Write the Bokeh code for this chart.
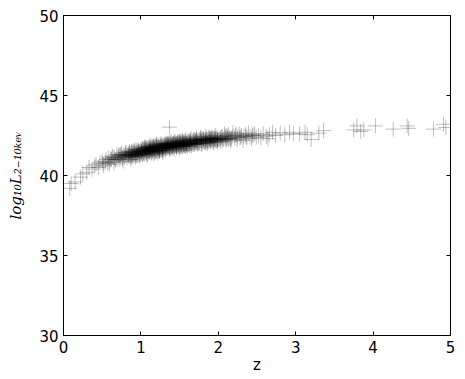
from bokeh.plotting import figure
from bokeh.models import ColumnDataSource, LinearAxis, FixedTicker, Range1d
from bokeh.embed import file_html
from bokeh.resources import INLINE

# ---- data (redshift z, log10 L_2-10keV) ----
z_a = [0.08, 0.10, 0.15, 0.22, 0.25, 0.30, 0.33, 0.37, 0.40, 0.42, 0.45]
l_a = [39.2, 39.5, 39.6, 39.9, 40.1, 40.2, 40.5, 40.4, 40.6, 40.7, 40.5]

z_b = [0.47, 0.50, 0.52, 0.55, 0.57, 0.58, 0.60, 0.62, 0.63, 0.65,
       0.66, 0.68, 0.69, 0.70, 0.51, 0.54, 0.61, 0.67, 0.64, 0.59]
l_b = [40.8, 40.9, 40.6, 41.0, 40.8, 41.1, 40.9, 41.0, 41.2, 40.8,
       41.1, 41.0, 41.3, 41.1, 40.75, 40.85, 41.05, 40.95, 41.15, 40.7]

z_c = [0.71, 0.72, 0.73, 0.74, 0.75, 0.76, 0.77, 0.78, 0.79, 0.80,
       0.81, 0.82, 0.83, 0.84, 0.85, 0.86, 0.87, 0.88, 0.89, 0.90,
       0.91, 0.92, 0.93, 0.94, 0.95, 0.96, 0.97, 0.98, 0.99, 1.00,
       0.72, 0.76, 0.80, 0.84, 0.88, 0.92, 0.96, 0.98, 0.74, 0.82,
       0.86, 0.90, 0.94, 0.78, 1.00]
l_c = [41.2, 41.0, 41.3, 41.1, 41.4, 41.2, 40.9, 41.3, 41.15, 41.25,
       41.45, 41.1, 41.3, 41.2, 41.5, 41.35, 41.0, 41.4, 41.25, 41.55,
       41.3, 41.45, 41.15, 41.6, 41.4, 41.3, 41.5, 41.2, 41.45, 41.65,
       41.25, 41.05, 41.4, 41.35, 41.15, 41.3, 41.55, 41.35, 41.3, 41.25,
       41.2, 41.4, 41.25, 41.15, 41.35]

z_d = [1.01, 1.02, 1.02, 1.03, 1.04, 1.05, 1.05, 1.06, 1.07, 1.08,
       1.08, 1.09, 1.10, 1.10, 1.11, 1.12, 1.12, 1.13, 1.14, 1.14,
       1.15, 1.16, 1.16, 1.17, 1.18, 1.18, 1.19, 1.20, 1.20, 1.21,
       1.22, 1.22, 1.23, 1.24, 1.24, 1.25, 1.26, 1.26, 1.27, 1.28,
       1.28, 1.29, 1.30, 1.30, 1.03, 1.07, 1.09, 1.13, 1.15, 1.17,
       1.19, 1.21, 1.23, 1.25, 1.27, 1.29, 1.06, 1.11, 1.16, 1.21,
       1.26, 1.04, 1.18, 1.24, 1.14, 1.08, 1.28, 1.12, 1.20, 1.01]
l_d = [41.5, 41.3, 41.7, 41.45, 41.6, 41.35, 41.8, 41.55, 41.4, 41.65,
       41.25, 41.5, 41.75, 41.6, 41.45, 41.85, 41.55, 41.7, 41.4, 41.6,
       41.75, 41.5, 41.9, 41.65, 41.45, 41.8, 41.6, 41.7, 41.95, 41.55,
       41.75, 41.4, 41.85, 41.65, 41.5, 41.8, 41.7, 42.0, 41.6, 41.85,
       41.45, 41.75, 41.9, 41.65, 41.6, 41.7, 41.35, 41.55, 41.6, 41.35,
       41.85, 41.75, 41.6, 41.55, 41.9, 41.55, 41.75, 41.65, 41.7, 41.9,
       41.8, 41.4, 41.65, 41.75, 41.8, 41.55, 41.7, 41.7, 41.5, 41.6]

z_out = [1.37]
l_out = [43.02]

z_e = [1.31, 1.31, 1.32, 1.32, 1.33, 1.34, 1.34, 1.35, 1.35, 1.36,
       1.37, 1.37, 1.38, 1.39, 1.39, 1.40, 1.40, 1.41, 1.42, 1.42,
       1.43, 1.44, 1.44, 1.45, 1.46, 1.46, 1.47, 1.48, 1.48, 1.49,
       1.50, 1.50, 1.51, 1.52, 1.52, 1.53, 1.54, 1.54, 1.55, 1.56,
       1.56, 1.57, 1.58, 1.58, 1.59, 1.60, 1.60, 1.33, 1.36, 1.38,
       1.41, 1.43, 1.45, 1.47, 1.49, 1.51, 1.53, 1.55, 1.57, 1.59,
       1.34, 1.40, 1.46, 1.52, 1.58, 1.32, 1.44, 1.56, 1.38, 1.50,
       1.36, 1.42, 1.48, 1.54]
l_e = [41.75, 42.0, 41.85, 41.6, 41.95, 41.8, 41.7, 42.05, 41.9, 41.75,
       41.95, 41.6, 41.85, 42.1, 41.8, 41.95, 41.7, 41.9, 42.05, 41.8,
       41.65, 41.95, 42.15, 41.85, 42.0, 41.75, 41.9, 42.1, 41.85, 41.95,
       42.0, 41.7, 42.15, 41.9, 42.05, 41.8, 42.0, 42.2, 41.95, 41.85,
       42.1, 42.0, 41.9, 42.25, 42.05, 41.95, 41.8, 41.75, 41.85, 41.95,
       41.8, 42.0, 41.95, 42.05, 41.8, 41.9, 42.1, 42.05, 41.85, 41.95,
       41.9, 41.85, 41.9, 41.95, 42.0, 41.95, 41.85, 42.0, 41.7, 42.1,
       42.0, 41.95, 41.95, 41.85]

z_f = [1.61, 1.62, 1.62, 1.63, 1.64, 1.65, 1.65, 1.66, 1.67, 1.68,
       1.68, 1.69, 1.70, 1.71, 1.72, 1.72, 1.73, 1.74, 1.75, 1.76,
       1.77, 1.78, 1.79, 1.80, 1.81, 1.82, 1.83, 1.84, 1.85, 1.86,
       1.87, 1.88, 1.89, 1.90, 1.91, 1.92, 1.93, 1.94, 1.95, 1.96,
       1.97, 1.98, 1.99, 2.00, 1.63, 1.66, 1.69, 1.71, 1.74, 1.76,
       1.79, 1.81, 1.84, 1.86, 1.89, 1.91, 1.94, 1.97, 1.64, 1.70,
       1.78, 1.83, 1.88, 1.93, 1.99]
l_f = [42.05, 41.9, 42.2, 42.0, 42.1, 41.85, 42.3, 42.05, 42.15, 41.95,
       42.25, 42.1, 42.0, 42.2, 42.35, 42.05, 41.95, 42.15, 42.25, 42.05,
       42.4, 42.15, 42.0, 42.2, 42.3, 42.1, 42.25, 42.45, 42.15, 42.0,
       42.3, 42.2, 42.35, 42.1, 42.25, 42.4, 42.2, 42.05, 42.3, 42.5,
       42.25, 42.15, 42.35, 42.25, 42.15, 41.95, 42.25, 42.1, 42.0, 42.2,
       42.3, 42.15, 42.25, 42.2, 42.15, 42.35, 42.3, 42.4, 42.0, 42.15,
       42.3, 42.05, 42.4, 42.35, 42.2]

z_g = [2.02, 2.03, 2.05, 2.06, 2.08, 2.09, 2.10, 2.12, 2.13, 2.15,
       2.16, 2.18, 2.19, 2.21, 2.22, 2.24, 2.25, 2.27, 2.28, 2.30,
       2.32, 2.33, 2.35, 2.37, 2.39, 2.41, 2.43, 2.45, 2.47, 2.49,
       2.04, 2.11, 2.17, 2.23, 2.29, 2.36, 2.44]
l_g = [42.3, 42.1, 42.45, 42.25, 42.6, 42.35, 42.2, 42.4, 42.55, 42.3,
       42.15, 42.45, 42.7, 42.35, 42.5, 42.25, 42.4, 42.6, 42.35, 42.5,
       42.2, 42.45, 42.55, 42.35, 42.65, 42.45, 42.3, 42.5, 42.6, 42.4,
       42.4, 42.5, 42.3, 42.6, 42.4, 42.45, 42.55]

z_h = [2.52, 2.55, 2.58, 2.62, 2.64, 2.66, 2.70, 2.74, 2.80, 2.86,
       2.92, 2.97, 3.05, 3.12, 3.15, 3.20, 3.30, 3.36, 3.75, 3.79,
       3.84, 3.88, 4.03, 4.26, 4.44, 4.46, 4.78, 4.91, 4.94]
l_h = [42.5, 42.35, 42.6, 42.45, 42.3, 42.55, 42.7, 42.5, 42.65, 42.55,
       42.7, 42.6, 42.6, 42.7, 42.55, 42.25, 42.65, 42.8, 42.85, 43.1,
       42.75, 42.85, 43.1, 42.9, 43.1, 42.95, 42.9, 43.2, 43.0]

# additional sources in the densest part of the band
z_i = [0.85, 0.86, 0.87, 0.88, 0.89, 0.90, 0.91, 0.92, 0.93, 0.94,
       0.95, 0.96, 0.97, 0.98, 0.99,
       1.00, 1.01, 1.02, 1.03, 1.04, 1.05, 1.06, 1.07, 1.08, 1.09,
       1.10, 1.11, 1.12, 1.13, 1.14, 1.15, 1.16, 1.17, 1.18, 1.19,
       1.20, 1.21, 1.22, 1.23, 1.24, 1.25, 1.26, 1.27, 1.28, 1.29,
       1.30, 1.11, 1.17, 1.23, 1.05,
       1.31, 1.32, 1.33, 1.34, 1.35, 1.36, 1.37, 1.38, 1.39, 1.40,
       1.41, 1.42, 1.43, 1.44, 1.45, 1.46, 1.47, 1.48, 1.49, 1.50,
       1.51, 1.52, 1.53, 1.54, 1.55, 1.56, 1.57, 1.58, 1.59, 1.60,
       1.61, 1.62, 1.63, 1.64, 1.65,
       1.67, 1.69, 1.71, 1.73, 1.75, 1.77, 1.79, 1.81, 1.83, 1.85,
       1.87, 1.89, 1.91, 1.93, 1.95, 1.97, 1.99, 2.01, 2.03, 2.05,
       2.07, 2.09, 2.11, 2.13, 2.15, 1.72, 1.78, 1.84, 1.90, 1.96]
l_i = [41.3, 41.45, 41.25, 41.5, 41.35, 41.2, 41.45, 41.6, 41.35, 41.45,
       41.25, 41.4, 41.6, 41.5, 41.3,
       41.5, 41.4, 41.55, 41.35, 41.7, 41.5, 41.6, 41.45, 41.75, 41.6,
       41.5, 41.8, 41.6, 41.45, 41.7, 41.55, 41.8, 41.6, 41.7, 41.5,
       41.85, 41.65, 41.6, 41.75, 41.55, 41.9, 41.65, 41.75, 41.6, 41.85,
       41.75, 41.55, 41.75, 41.7, 41.65,
       41.85, 41.7, 41.9, 42.0, 41.8, 41.9, 41.75, 42.05, 41.9, 41.8,
       42.0, 41.9, 41.8, 42.05, 41.9, 41.8, 42.0, 41.9, 42.1, 41.85,
       42.0, 41.8, 41.95, 42.1, 41.9, 41.95, 42.15, 41.85, 42.0, 42.1,
       41.95, 42.05, 41.9, 42.2, 42.0,
       42.05, 41.95, 42.15, 42.1, 42.0, 42.2, 42.1, 42.25, 42.15, 42.3,
       42.1, 42.25, 42.2, 42.1, 42.25, 42.3, 42.1, 42.25, 42.35, 42.2,
       42.3, 42.45, 42.3, 42.25, 42.4, 42.25, 41.95, 42.05, 42.3, 42.15]

x_ticks = [0, 1, 2, 3, 4, 5]
y_ticks = [30, 35, 40, 45, 50]
x_title = "z"
y_title = "log\u2081\u2080L\u2082\u208b\u2081\u2080\u2096\u2091\u1d65"

z_all = z_a + z_b + z_c + z_d + z_out + z_e + z_f + z_g + z_h + z_i
l_all = l_a + l_b + l_c + l_d + l_out + l_e + l_f + l_g + l_h + l_i
src = ColumnDataSource(data=dict(z=z_all, logl=l_all))

p = figure(width=465, height=379, output_backend="svg", toolbar_location=None,
           x_range=Range1d(0, 5), y_range=Range1d(30, 50),
           min_border_left=63, min_border_right=15,
           min_border_top=15, min_border_bottom=44)
p.xgrid.visible = False
p.ygrid.visible = False
p.background_fill_color = "white"
p.border_fill_color = "white"
p.outline_line_color = "black"
p.outline_line_width = 1
p.outline_line_alpha = 1

p.scatter(x="z", y="logl", source=src, marker="cross", size=15,
          line_color="black", line_alpha=0.25, line_width=1)

FONT = "DejaVu Sans"
TICK_SIZE = "15px"


def style_axis(ax, ticks, show_labels):
    ax.ticker = FixedTicker(ticks=ticks)
    ax.minor_tick_in = 0
    ax.minor_tick_out = 0
    ax.major_tick_in = 4
    ax.major_tick_out = 0
    ax.major_tick_line_color = "black"
    ax.axis_line_color = "black"
    ax.major_label_text_font = FONT
    if show_labels:
        ax.major_label_text_color = "black"
        ax.major_label_text_font_size = TICK_SIZE
        ax.major_label_standoff = 5
    else:
        ax.major_label_text_color = None
        ax.major_label_text_font_size = "1px"
        ax.major_label_standoff = 0


xa = p.below[0]
ya = p.left[0]
style_axis(xa, x_ticks, True)
style_axis(ya, y_ticks, True)

xa.axis_label = x_title
xa.axis_label_text_font = FONT
xa.axis_label_text_font_style = "normal"
xa.axis_label_text_font_size = TICK_SIZE
xa.axis_label_text_color = "black"
xa.axis_label_standoff = 0

ya.axis_label = y_title
ya.axis_label_text_font = "DejaVu Serif"
ya.axis_label_text_font_style = "italic"
ya.axis_label_text_font_size = "15px"
ya.axis_label_text_color = "black"
ya.axis_label_standoff = 11

top = LinearAxis()
style_axis(top, x_ticks, False)
p.add_layout(top, "above")
right = LinearAxis()
style_axis(right, y_ticks, False)
p.add_layout(right, "right")

open("out.html", "w").write(file_html(p, INLINE))
